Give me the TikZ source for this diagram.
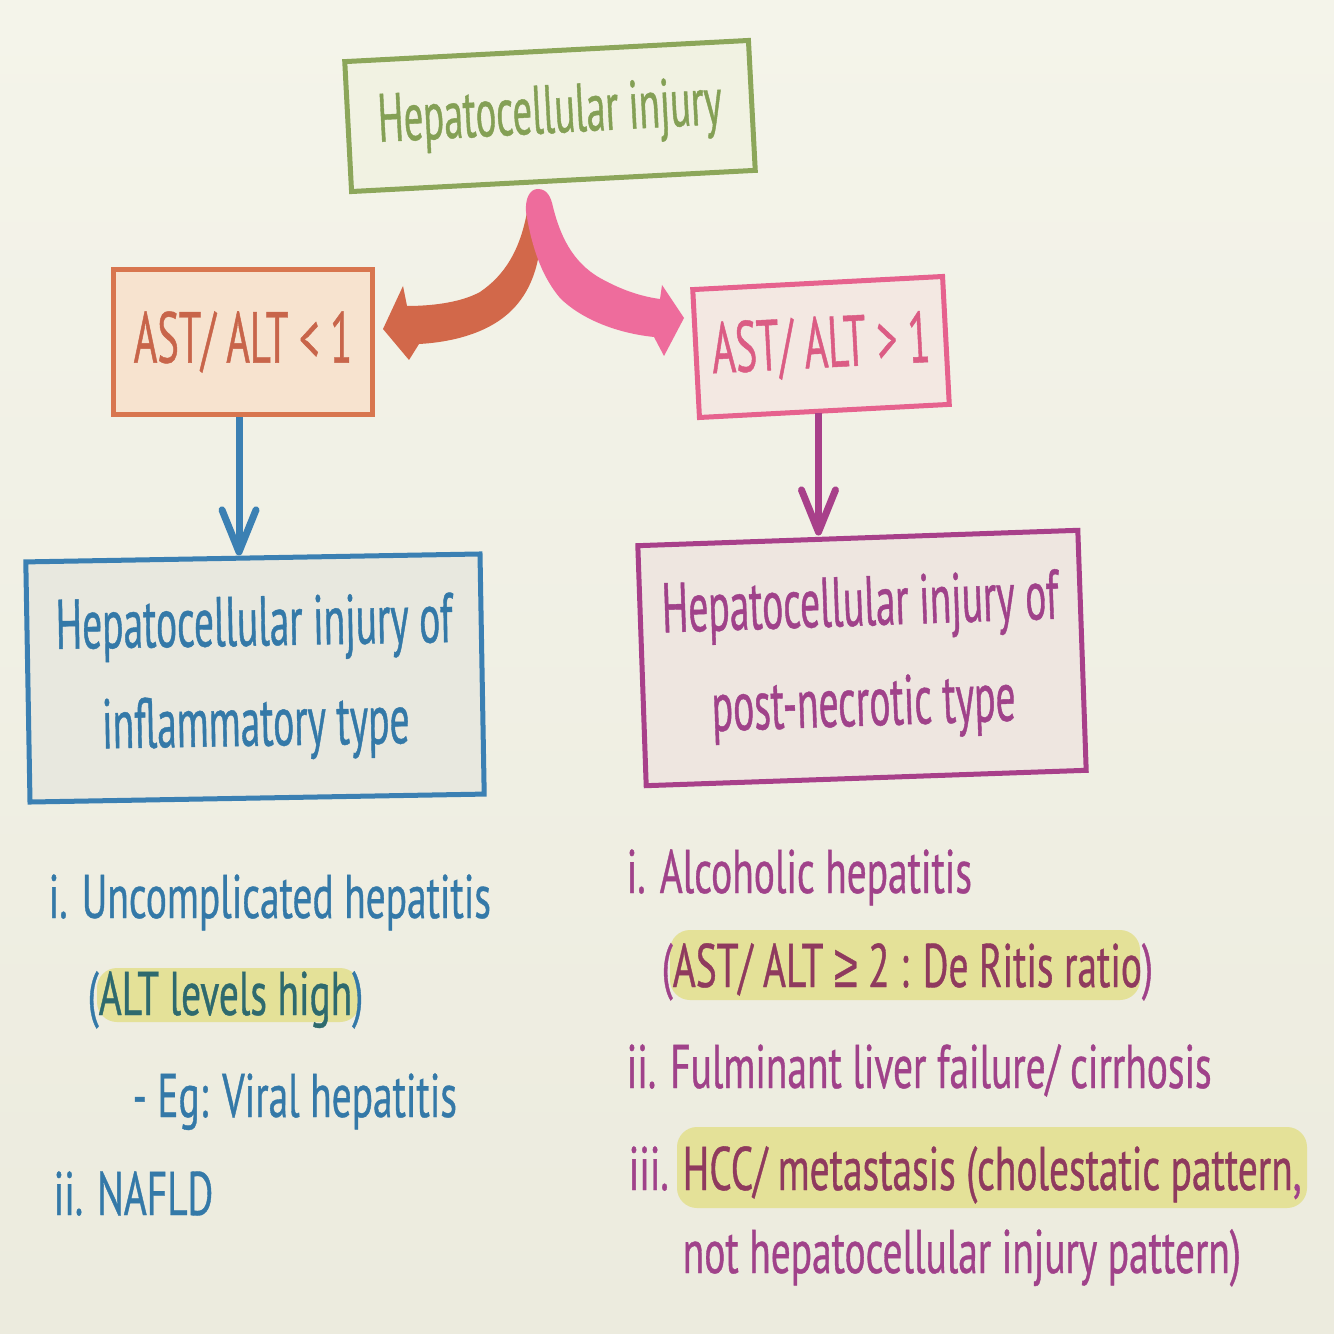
\documentclass[tikz,border=0pt]{standalone}
\usepackage{fontspec}
\setmainfont{PT Sans}[FakeStretch=0.56,FakeBold=0.6]
\newfontfamily\listfam{PT Sans}[FakeStretch=0.64,FakeBold=0.6]
\newfontfamily\geqfam{Liberation Sans}[FakeStretch=0.7,FakeBold=0.6]
\usetikzlibrary{arrows.meta,calc}
\definecolor{paperA}{HTML}{F4F4EA}
\definecolor{paperB}{HTML}{ECEBDE}
\definecolor{grn}{HTML}{8CA65A}
\definecolor{grntxt}{HTML}{84A055}
\definecolor{grnfill}{HTML}{F1F2E2}
\definecolor{org}{HTML}{D8764F}
\definecolor{orgtxt}{HTML}{C8654A}
\definecolor{orgfill}{HTML}{F7E3CF}
\definecolor{orgarrow}{HTML}{D2684A}
\definecolor{pnk}{HTML}{E6628E}
\definecolor{pnktxt}{HTML}{DB5C84}
\definecolor{pnkfill}{HTML}{F3E8E2}
\definecolor{pnkarrow}{HTML}{EE6C9C}
\definecolor{blu}{HTML}{3B80B3}
\definecolor{blutxt}{HTML}{3479A8}
\definecolor{blufill}{HTML}{E8E8DF}
\definecolor{bludark}{HTML}{2E6A6E}
\definecolor{pur}{HTML}{A8408A}
\definecolor{purtxt}{HTML}{A0428A}
\definecolor{purfill}{HTML}{EEE6E0}
\definecolor{purdark}{HTML}{8F3A5E}
\definecolor{hlyellow}{HTML}{E4E198}
\begin{document}
\begin{tikzpicture}[x=0.01cm,y=-0.01cm,
  box/.style={draw, line width=0.05cm, inner sep=0pt, align=center},
  bigfont/.style={font=\fontsize{20}{28.5}\selectfont},
  listfont/.style={font=\listfam\fontsize{17.5}{21}\selectfont},
  item/.style={listfont, anchor=base west, inner sep=0pt},
  varrow/.style={line width=0.07cm, -{Straight Barb[round,length=4.2mm,width=3.4mm]}},
  hl/.style={fill=hlyellow, rounded corners=0.2cm}]
\useasboundingbox (0,0) rectangle (1334,1334);
\shade[top color=paperA, bottom color=paperB] (0,0) rectangle (1334,1334);

% boxes
\node[box, draw=grn, fill=grnfill, text=grntxt, minimum width=4.04cm, minimum height=1.3cm, rotate=3, font=\fontsize{19.5}{24}\selectfont] (top) at (550,116) {Hepatocellular injury};
\node[box, draw=org, fill=orgfill, text=orgtxt, minimum width=2.58cm, minimum height=1.45cm, font=\fontsize{20.5}{24}\selectfont] (astl) at (243,342) {AST/ ALT < 1};
\node[box, draw=pnk, fill=pnkfill, text=pnktxt, minimum width=2.5cm, minimum height=1.28cm, rotate=3, font=\fontsize{20.5}{24}\selectfont] (astr) at (821,347) {AST/ ALT > 1};
\node[box, draw=blu, fill=blufill, text=blutxt, minimum width=4.54cm, minimum height=2.4cm, rotate=1, bigfont] (inflam) at (255,678) {Hepatocellular injury of\\inflammatory type};
\node[box, draw=pur, fill=purfill, text=purtxt, minimum width=4.4cm, minimum height=2.4cm, rotate=2, bigfont] (necro) at (862,658) {Hepatocellular injury of\\post-necrotic type};

% curved arrows from the top box
\fill[orgarrow] (527,212) .. controls (520,250) and (505,275) .. (480,292)
  .. controls (460,303) and (430,306) .. (407,306) -- (403,286) -- (383,329) -- (409,360) -- (419,344)
  .. controls (455,342) and (490,332) .. (512,310)
  .. controls (530,292) and (538,268) .. (540,245) -- cycle;
\fill[pnkarrow] (526,212) .. controls (525,198) and (530,189) .. (538,189)
  .. controls (547,189) and (551,197) .. (553,207)
  .. controls (560,235) and (572,262) .. (600,278)
  .. controls (625,292) and (645,297) .. (660,299)
  -- (662,285) -- (684,318) -- (664,356) -- (654,337)
  .. controls (615,333) and (580,318) .. (560,298)
  .. controls (545,280) and (533,255) .. (526,212) -- cycle;

% straight arrows
\draw[varrow, blu] ($(astl.south)+(-4,0)$) -- ($(astl.south |- inflam.north)+(-4,0)$);
\draw[varrow, pur] ($(astr.south)+(-6,0)$) -- ($(astr.south |- necro.north)+(-6,0)$);

% highlights
\fill[hl] (97,968) rectangle (360,1022);
\fill[hl] (670,930) rectangle (1140,1000);
\fill[hl] (677,1127) rectangle (1307,1208);

% left list
\node[item, text=blutxt] (l1) at (48,918) {i. Uncomplicated hepatitis};
\node[item, text=blutxt] (l2) at (87,1015) {(\textcolor{bludark}{ALT levels high})};
\node[item, text=blutxt] (l3) at (132,1117) {- Eg: Viral hepatitis};
\node[item, text=blutxt] (l4) at (53,1215) {ii. NAFLD};

% right list
\node[item, text=purtxt] (r1) at (626,893) {i. Alcoholic hepatitis};
\node[item, text=purtxt] (r2) at (661,987) {(\textcolor{purdark}{AST/ ALT {\geqfam ≥} 2 : De Ritis ratio})};
\node[item, text=purtxt] (r3) at (626,1088) {ii. Fulminant liver failure/ cirrhosis};
\node[item, text=purtxt] (r4) at (628,1190) {iii. \textcolor{purdark}{HCC/ metastasis (cholestatic pattern},};
\node[item, text=purtxt] (r5) at (682,1273) {not hepatocellular injury pattern)};
\end{tikzpicture}
\end{document}
